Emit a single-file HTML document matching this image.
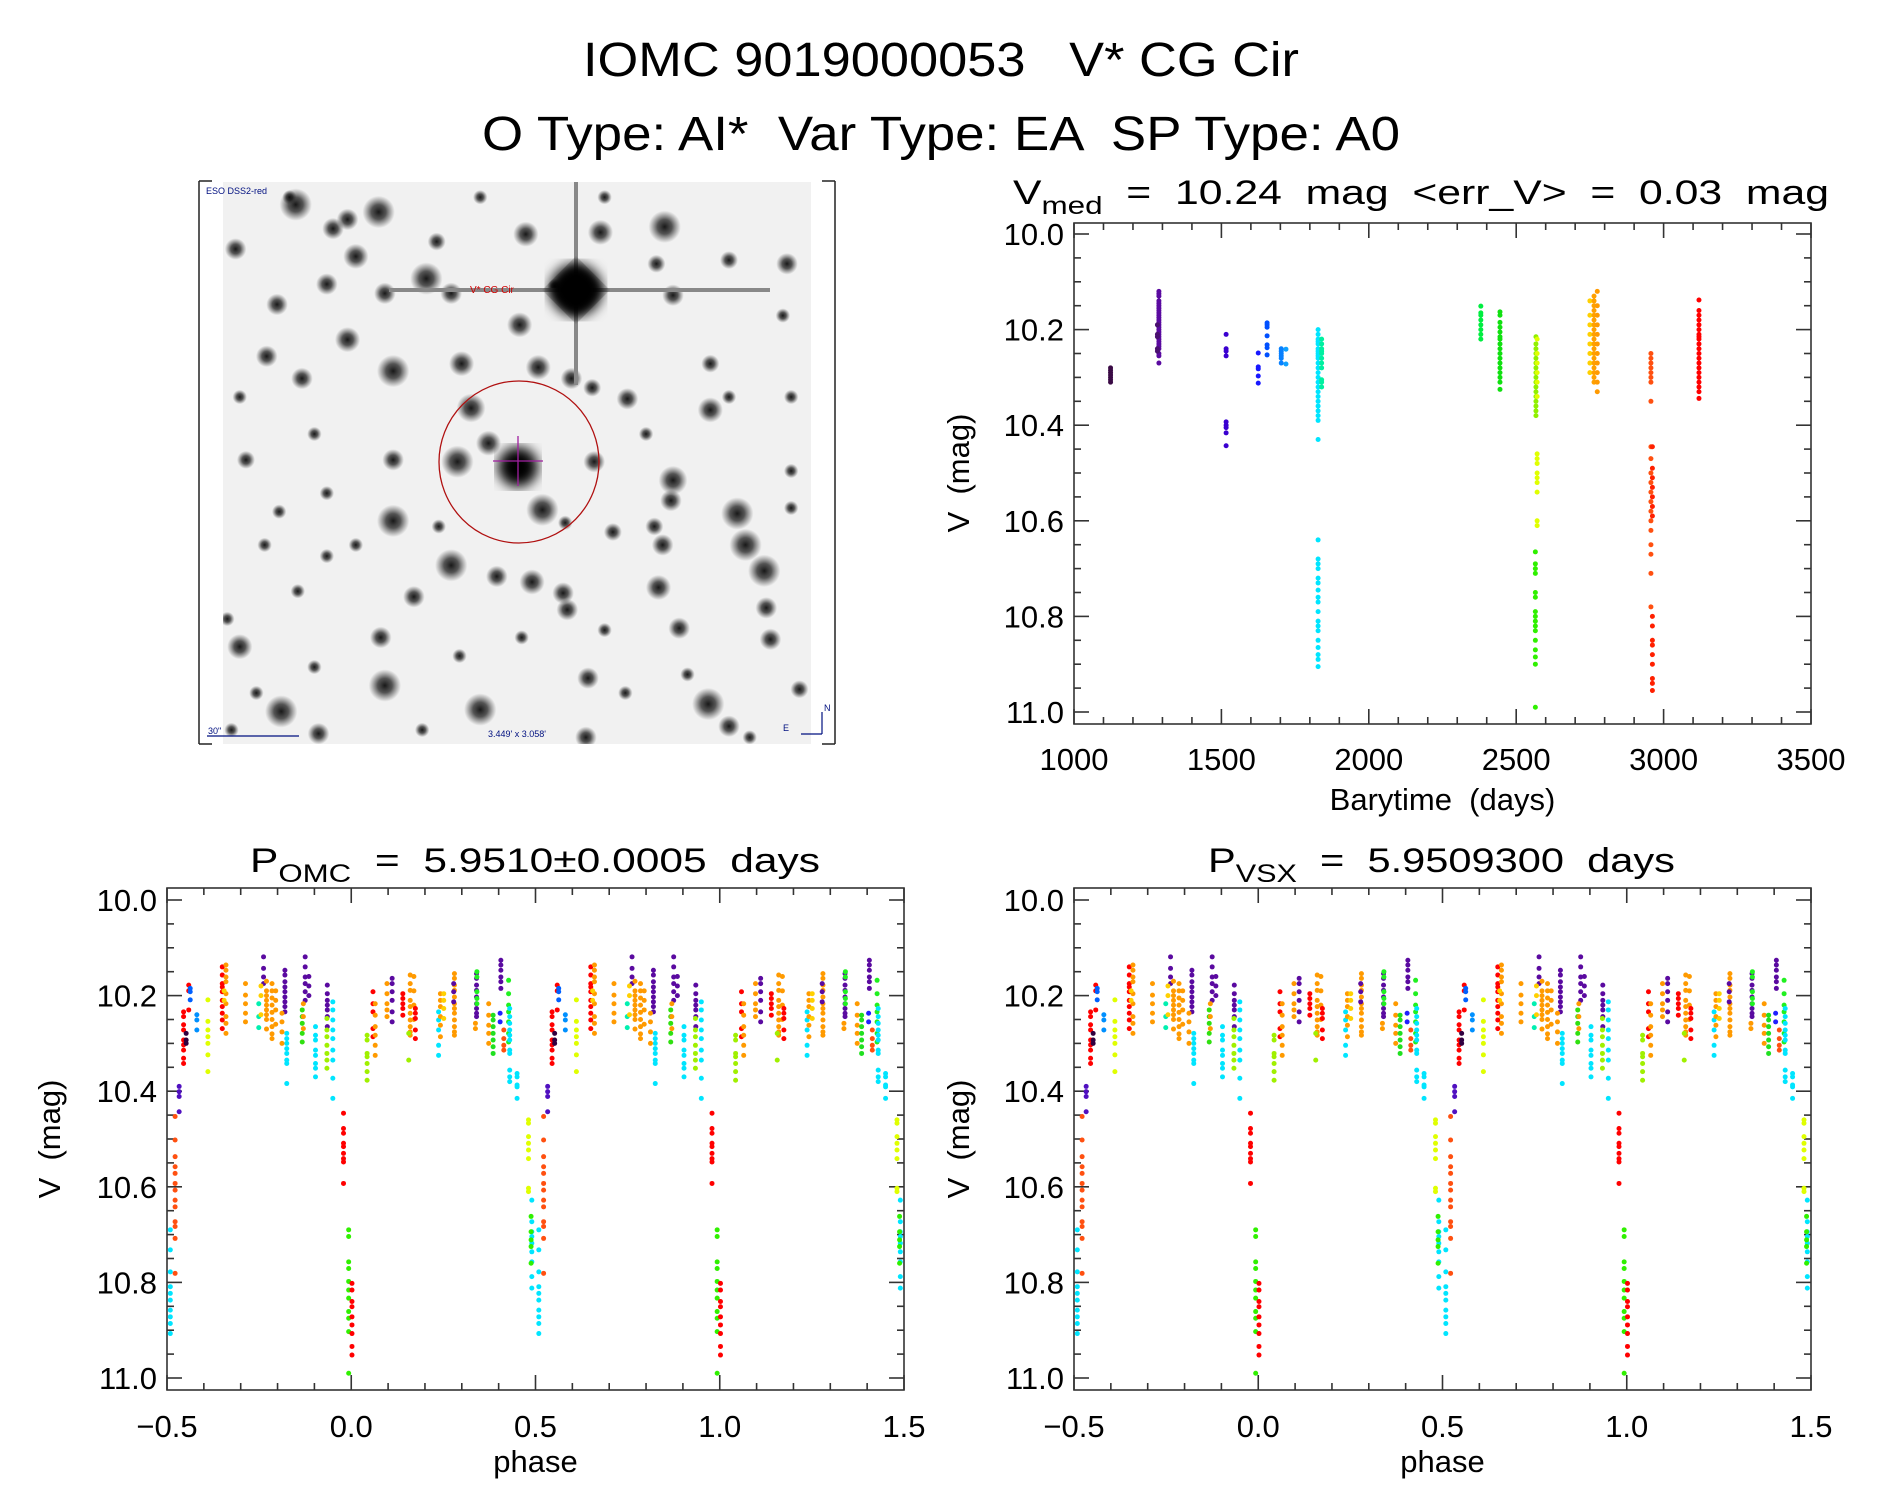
<!DOCTYPE html>
<html><head><meta charset="utf-8">
<style>
html,body{margin:0;padding:0;background:#fff;}
svg{display:block;font-family:"Liberation Sans",sans-serif;}
text,tspan{white-space:pre;}
</style></head>
<body>
<svg id="fig" width="1889" height="1494" viewBox="0 0 1889 1494" xmlns="http://www.w3.org/2000/svg">
<defs>
<radialGradient id="blob"><stop offset="0" stop-color="#000" stop-opacity="0.9"/><stop offset="0.45" stop-color="#111" stop-opacity="0.7"/><stop offset="1" stop-color="#333" stop-opacity="0"/></radialGradient>
<filter id="bl"><feGaussianBlur stdDeviation="6"/></filter>
<clipPath id="imgclip"><rect x="223" y="182" width="588" height="562"/></clipPath>
</defs>
<text x="941" y="76" font-size="48" text-anchor="middle" textLength="716" lengthAdjust="spacingAndGlyphs">IOMC 9019000053   V* CG Cir</text>
<text x="941" y="150" font-size="48" text-anchor="middle" textLength="918" lengthAdjust="spacingAndGlyphs">O Type: AI*  Var Type: EA  SP Type: A0</text>
<g id="img"></g>
<g id="ts"></g>
<g id="ph1"></g>
<g id="ph2"></g>
</svg>
<script>
// ---------- time series data ----------
const tsTimes = [1124,1288,1283,1516,1625,1655,1703,1719,1828,1840,2380,2445,2567,2571,2565,2750,2764,2775,2957,2962,3120];
const tsColors = ["#3a0a45","#5a0aa0","#4a1070","#3a00d0","#1818ff","#0050ff","#0880ff","#10a0ff","#00e5ff","#00f0a0","#00ee40","#10e010","#90f000","#e0ff00","#30f000","#ffd000","#ffa000","#ff9a00","#ff5010","#ff2000","#ff0000"];
const tsMags = [
 [10.28,10.285,10.29,10.295,10.30,10.305,10.31],
 [10.12,10.125,10.13,10.14,10.145,10.15,10.155,10.16,10.165,10.17,10.175,10.18,10.185,10.19,10.195,10.2,10.205,10.21,10.215,10.22,10.225,10.23,10.235,10.24,10.25,10.255,10.27],
 [10.19,10.21,10.215,10.24,10.245],
 [10.21,10.24,10.245,10.255,10.393,10.40,10.405,10.416,10.443],
 [10.249,10.278,10.282,10.297,10.312],
 [10.186,10.19,10.195,10.213,10.232,10.238,10.253],
 [10.24,10.245,10.25,10.255,10.26,10.27],
 [10.241,10.272],
 [10.2,10.21,10.22,10.225,10.23,10.24,10.245,10.25,10.255,10.26,10.27,10.28,10.29,10.3,10.31,10.32,10.33,10.34,10.35,10.36,10.37,10.38,10.39,10.43,10.64,10.68,10.69,10.70,10.72,10.73,10.745,10.76,10.77,10.79,10.81,10.82,10.83,10.85,10.865,10.88,10.89,10.905],
 [10.22,10.23,10.24,10.245,10.25,10.26,10.27,10.28,10.305,10.31,10.32],
 [10.151,10.165,10.17,10.18,10.19,10.20,10.21,10.22],
 [10.163,10.17,10.185,10.195,10.205,10.215,10.22,10.23,10.24,10.25,10.26,10.27,10.28,10.29,10.30,10.31,10.325],
 [10.215,10.23,10.24,10.25,10.26,10.27,10.28,10.29,10.30,10.31,10.32,10.33,10.34,10.35,10.36,10.37,10.38],
 [10.22,10.25,10.27,10.29,10.31,10.34,10.46,10.47,10.48,10.50,10.51,10.52,10.54,10.60,10.61],
 [10.665,10.69,10.70,10.71,10.75,10.76,10.79,10.80,10.81,10.82,10.83,10.85,10.87,10.885,10.90,10.99],
 [10.14,10.17,10.19,10.21,10.23,10.25,10.27,10.29],
 [10.13,10.14,10.15,10.16,10.17,10.18,10.19,10.2,10.21,10.22,10.23,10.24,10.25,10.26,10.27,10.28,10.29,10.30,10.31],
 [10.12,10.15,10.17,10.19,10.21,10.23,10.25,10.27,10.29,10.31,10.33],
 [10.25,10.26,10.27,10.28,10.29,10.30,10.31,10.35,10.445,10.47,10.50,10.52,10.54,10.56,10.58,10.60,10.62,10.65,10.67,10.71,10.78],
 [10.445,10.49,10.51,10.53,10.55,10.57,10.59,10.80,10.82,10.85,10.86,10.88,10.90,10.93,10.94,10.955],
 [10.138,10.16,10.17,10.18,10.19,10.2,10.21,10.215,10.22,10.23,10.24,10.25,10.26,10.27,10.28,10.29,10.3,10.31,10.32,10.33,10.344]
];
const tsXTicks = [1000,1500,2000,2500,3000,3500];
const magTicks = [10.0,10.2,10.4,10.6,10.8,11.0];
const magTickLabels = ["10.0","10.2","10.4","10.6","10.8","11.0"];
// ---------- phased data (one cycle, repeated) ----------
const phPhases = [-0.491,-0.478,-0.467,-0.455,-0.441,-0.448,-0.437,-0.419,-0.389,-0.35,-0.34,-0.345,-0.287,-0.251,-0.238,-0.23,-0.215,-0.205,-0.245,-0.18,-0.175,-0.188,-0.125,-0.115,-0.133,-0.13,-0.097,-0.065,-0.05,-0.066,-0.021,-0.007,0.002,0.043,0.059,0.065,0.097,0.111,0.14,0.16,0.17,0.174,0.156,0.237,0.242,0.251,0.28,0.278,0.34,0.341,0.337,0.373,0.385,0.406,0.404,0.427,0.414,0.43,0.45,0.481,0.49,0.488];
const phColors = ["#00e5ff","#ff5010","#5010c0","#ff0000","#ff0000","#300040","#0060ff","#0090ff","#e0ff00","#ff0000","#ff9a00","#ffd000","#ff9a00","#00f0b0","#5a0aa0","#ff9a00","#ff9a00","#ff9a00","#ffd000","#5a0aa0","#00e5ff","#ff9a00","#5a0aa0","#5a0aa0","#30e010","#ff9a00","#00e5ff","#5a0aa0","#00e5ff","#a0f000","#ff0000","#30f000","#ff0000","#a0f000","#ff0000","#ff9a00","#ff9a00","#5a0aa0","#ff0000","#ff9a00","#ff9a00","#ff0000","#a0f000","#00e5ff","#ff9a00","#ffd000","#ff9a00","#5a0aa0","#5a0aa0","#20f020","#ff9a00","#ff9a00","#20e020","#5a0aa0","#2020ff","#20f020","#ff5010","#00e5ff","#00e5ff","#e0ff00","#00e5ff","#30f000"];
const phMags = [
 [10.690,10.732,10.778,10.809,10.823,10.837,10.858,10.872,10.886,10.907],
 [10.453,10.502,10.537,10.558,10.572,10.593,10.607,10.628,10.642,10.673,10.683,10.708,10.781],
 [10.390,10.401,10.411,10.443],
 [10.342,10.331,10.314,10.303,10.293,10.272,10.261,10.244,10.234],
 [10.178,10.19,10.23],
 [10.279,10.293,10.300],
 [10.185,10.192,10.209],
 [10.24,10.251,10.272],
 [10.209,10.254,10.272,10.286,10.300,10.324,10.359],
 [10.14,10.157,10.175,10.182,10.192,10.21,10.223,10.237,10.251,10.269],
 [10.136,10.147,10.161,10.171,10.196,10.217,10.244,10.258,10.279],
 [10.19,10.21],
 [10.175,10.199,10.217,10.237,10.255],
 [10.217,10.244,10.267],
 [10.119,10.143,10.161,10.175],
 [10.17,10.19,10.2,10.21,10.22,10.23,10.24,10.25,10.27],
 [10.175,10.19,10.205,10.22,10.235,10.25,10.265,10.28,10.29],
 [10.19,10.21,10.23,10.26],
 [10.18,10.2,10.24],
 [10.147,10.157,10.171,10.182,10.192,10.203,10.213,10.223,10.234],
 [10.279,10.29,10.3,10.311,10.321,10.335,10.342,10.384],
 [10.237,10.255,10.276,10.3],
 [10.119,10.14,10.161,10.175,10.192,10.21],
 [10.16,10.18,10.2],
 [10.23,10.244,10.258,10.279,10.297],
 [10.217,10.244,10.269],
 [10.265,10.283,10.293,10.314,10.325,10.342,10.352,10.37],
 [10.178,10.196,10.21,10.22,10.23,10.244,10.265],
 [10.213,10.23,10.251,10.272,10.29,10.314,10.335,10.373,10.415],
 [10.248,10.272,10.286,10.304,10.321,10.335,10.352],
 [10.446,10.478,10.488,10.509,10.516,10.530,10.541,10.548,10.593],
 [10.690,10.704,10.757,10.771,10.798,10.816,10.833,10.861,10.875,10.903,10.99],
 [10.802,10.816,10.840,10.851,10.872,10.889,10.907,10.934,10.952],
 [10.283,10.293,10.321,10.328,10.342,10.359,10.377],
 [10.192,10.217,10.234,10.269,10.286],
 [10.217,10.241,10.265,10.283,10.304,10.325],
 [10.175,10.196,10.217,10.23,10.244],
 [10.164,10.175,10.192,10.21,10.234,10.255],
 [10.196,10.206,10.217,10.227,10.241],
 [10.157,10.175,10.189,10.21,10.223,10.237,10.251,10.265,10.283,10.276],
 [10.16,10.19,10.22,10.25],
 [10.227,10.237,10.248,10.272,10.29],
 [10.279,10.335],
 [10.234,10.251,10.272,10.304,10.325],
 [10.196,10.21,10.223,10.244,10.262,10.286],
 [10.196,10.21,10.227,10.248],
 [10.154,10.164,10.178,10.189,10.203,10.217,10.227,10.237,10.251,10.265,10.276,10.283],
 [10.175,10.192,10.213],
 [10.154,10.164,10.178,10.189,10.203,10.217,10.227,10.237,10.244],
 [10.150,10.161,10.192,10.206,10.217],
 [10.258,10.269],
 [10.217,10.241,10.262,10.279,10.3],
 [10.241,10.251,10.265,10.279,10.293,10.307,10.321],
 [10.126,10.136,10.147,10.161,10.171,10.185],
 [10.237,10.255],
 [10.168,10.196,10.22,10.234,10.255,10.279,10.297],
 [10.272,10.29,10.304,10.314],
 [10.227,10.244,10.258,10.272,10.283,10.293,10.314,10.321,10.356,10.37,10.38],
 [10.363,10.37,10.387,10.391,10.415],
 [10.46,10.467,10.495,10.509,10.523,10.541,10.603,10.61],
 [10.628,10.673,10.694,10.704,10.718,10.736,10.757,10.788,10.812],
 [10.662,10.694,10.711,10.725,10.76]
];
const phXTicks = [-0.5,0.0,0.5,1.0,1.5];
const phXTickLabels = ["\u22120.5","0.0","0.5","1.0","1.5"];

const NS = "http://www.w3.org/2000/svg";
function mk(parent, tag, attrs, text){
  const e = document.createElementNS(NS, tag);
  for (const k in attrs) e.setAttribute(k, attrs[k]);
  if (text !== undefined) e.textContent = text;
  parent.appendChild(e);
  return e;
}

function drawAxes(g, box, xmin, xmax, xMajor, xMinor, xTickVals, xTickLabels, ylabelRight, xTitle){
  const sx = v => box.x0 + (v - xmin) / (xmax - xmin) * (box.x1 - box.x0);
  const sy = m => box.y10 + (m - 10) * (box.y11 - box.y10);
  const axes = mk(g, 'rect', {x: box.x0, y: box.top, width: box.x1 - box.x0, height: box.bot - box.top, fill: 'none', stroke: '#333', 'stroke-width': 1.6});
  
  
  for (let i = 0; i <= 20; i++) {
    const m = 10 + i * 0.05;
    const y = sy(m);
    const len = (i % 4 === 0) ? 15 : 7;
    mk(g, 'line', {x1: box.x0, x2: box.x0 + len, y1: y, y2: y, stroke: '#333', 'stroke-width': 1.6});
    mk(g, 'line', {x1: box.x1, x2: box.x1 - len, y1: y, y2: y, stroke: '#333', 'stroke-width': 1.6});
  }
  magTicks.forEach((m, i) => {
    const t = mk(g, 'text', {x: ylabelRight, y: sy(m) + 11, 'font-size': 31, 'text-anchor': 'end'}, magTickLabels[i]);
    
    
  });
  const nMin = Math.round((xmax - xmin) / xMinor);
  for (let i = 0; i <= nMin; i++) {
    const v = xmin + i * xMinor;
    const x = sx(v);
    const isMaj = Math.abs((v - xmin) / xMajor - Math.round((v - xmin) / xMajor)) < 1e-6;
    const len = isMaj ? 15 : 7;
    mk(g, 'line', {x1: x, x2: x, y1: box.bot, y2: box.bot - len, stroke: '#333', 'stroke-width': 1.6});
    mk(g, 'line', {x1: x, x2: x, y1: box.top, y2: box.top + len, stroke: '#333', 'stroke-width': 1.6});
  }
  xTickVals.forEach((v, i) => {
    const t = mk(g, 'text', {x: sx(v), y: box.xlabY, 'font-size': 31, 'text-anchor': 'middle'}, xTickLabels[i]);
    
    
  });
  const xt = mk(g, 'text', {x: (box.x0 + box.x1) / 2, y: box.xtitleY, 'font-size': 31, 'text-anchor': 'middle'}, xTitle);
  
  
  const yt = mk(g, 'text', {x: 0, y: 0, 'font-size': 31, 'text-anchor': 'middle', transform: `translate(${box.ytitleX},${(box.y10 + box.y11) / 2}) rotate(-90)`}, 'V  (mag)');
  
  
  return {sx, sy};
}

// ---------- time series plot ----------
(function(){
  const g = document.getElementById('ts');
  const box = {x0: 1074, x1: 1811, top: 223, bot: 724, y10: 234, y11: 712, xlabY: 770, xtitleY: 810, ytitleX: 969};
  const t = mk(g, 'text', {x: 1013, y: 204, 'font-size': 34});
  
  
  mk(t, 'tspan', {}, 'V');
  mk(t, 'tspan', {dy: 10, 'font-size': 25}, 'med');
  mk(t, 'tspan', {dy: -10}, '  =  10.24  mag  <err_V>  =  0.03  mag');
  t.setAttribute('textLength', 816);
  t.setAttribute('lengthAdjust', 'spacingAndGlyphs');
  const labels = tsXTicks.map(String);
  const ax = drawAxes(g, box, 1000, 3500, 500, 100, tsXTicks, labels, 1064, 'Barytime  (days)');
  tsTimes.forEach((tt, i) => {
    tsMags[i].forEach(m => {
      const c = mk(g, 'circle', {cx: ax.sx(tt), cy: ax.sy(m), r: 2.5, fill: tsColors[i]});
      
      
    });
  });
})();

// ---------- phase plots ----------
function phasePlot(id, x0, x1, ylabRight, ytitleX, titleMain, titleSub, titleRest, titleX, titleLen){
  const g = document.getElementById(id);
  const box = {x0: x0, x1: x1, top: 888, bot: 1390, y10: 900, y11: 1378, xlabY: 1437, xtitleY: 1472, ytitleX: ytitleX};
  const t = mk(g, 'text', {x: titleX, y: 872, 'font-size': 34});
  
  
  mk(t, 'tspan', {}, titleMain);
  mk(t, 'tspan', {dy: 10, 'font-size': 25}, titleSub);
  mk(t, 'tspan', {dy: -10}, titleRest);
  t.setAttribute('textLength', titleLen);
  t.setAttribute('lengthAdjust', 'spacingAndGlyphs');
  const ax = drawAxes(g, box, -0.5, 1.5, 0.5, 0.1, phXTicks, phXTickLabels, ylabRight, 'phase');
  phPhases.forEach((p, i) => {
    [p, p + 1].forEach(pp => {
      if (pp < -0.5 || pp > 1.5) return;
      phMags[i].forEach(m => {
        const c = mk(g, 'circle', {cx: ax.sx(pp), cy: ax.sy(m), r: 2.5, fill: phColors[i]});
        
        
      });
    });
  });
}
phasePlot('ph1', 167, 904, 157, 60, 'P', 'OMC', '  =  5.9510\u00b10.0005  days', 250, 570);
phasePlot('ph2', 1074, 1811, 1064, 969, 'P', 'VSX', '  =  5.9509300  days', 1208, 467);

// ---------- sky image ----------
(function(){
  const g = document.getElementById('img');
  mk(g, 'rect', {x: 199, y: 181, width: 636, height: 563, fill: '#fff', stroke: 'none'});
  mk(g, 'rect', {x: 223, y: 182, width: 588, height: 562, fill: '#f1f1f1'});
  mk(g, 'line', {x1: 199, y1: 181, x2: 199, y2: 744, stroke: '#222', 'stroke-width': 1.5});
  mk(g, 'line', {x1: 199, y1: 181, x2: 212, y2: 181, stroke: '#222', 'stroke-width': 1.5});
  mk(g, 'line', {x1: 199, y1: 744, x2: 212, y2: 744, stroke: '#222', 'stroke-width': 1.5});
  mk(g, 'line', {x1: 835, y1: 181, x2: 835, y2: 744, stroke: '#222', 'stroke-width': 1.5});
  mk(g, 'line', {x1: 822, y1: 181, x2: 835, y2: 181, stroke: '#222', 'stroke-width': 1.5});
  mk(g, 'line', {x1: 822, y1: 744, x2: 835, y2: 744, stroke: '#222', 'stroke-width': 1.5});
  const cg = mk(g, 'g', {'clip-path': 'url(#imgclip)'});
  const blobs = [[255,80,9],[455,100,9],[400,220,7],[570,280,9],[1145,140,9],[990,155,7],[810,160,7],[110,200,6],[490,530,9],[655,510,7],[840,520,7],[795,405,7],[380,445,7],[678,630,8],[645,775,9],[720,725,7],[850,905,9],[490,935,9],[1255,635,7],[1165,825,8],[1320,915,9],[1385,1070,9],[1340,1000,9],[630,1055,9],[700,1445,9],[1250,1430,9],[220,1450,9],[470,1380,9],[960,1360,6],[1180,1225,6],[1130,1115,7],[1160,880,6],[825,1100,7],[540,1140,6],[120,1275,7],[460,1250,6],[975,775,6],[1055,605,6],[1440,240,6],[470,320,6],[330,295,6],[210,350,6],[345,145,6],[380,120,6],[595,180,5],[630,320,6],[1165,325,6],[1390,1170,6],[310,1510,6],[955,1520,6],[1300,1490,6],[1470,1390,5],[1400,1255,6],[270,550,6],[185,490,6],[135,770,5],[490,770,6],[920,550,6],[970,575,5],[1125,240,5],[1255,510,5],[900,1130,6],[910,1175,6],[740,1085,6],[1020,965,5],[1120,950,5],[1140,1000,6],[180,1000,4],[260,1125,4],[90,1200,4],[330,860,4],[215,910,4],[600,950,4],[905,940,4],[1300,230,5],[1450,600,4],[1430,380,4],[1000,1230,4],[560,1500,4],[300,1330,4],[240,60,4],[700,60,4],[1000,60,4],[120,600,4],[300,700,4],[1100,700,4],[1450,800,4],[1450,900,4],[160,1400,4],[650,1300,4],[800,1250,4],[1200,1350,4],[1350,1520,4],[100,1500,4],[400,1000,4],[1050,1400,4],[880,300,4],[1300,600,4],[330,1030,4]];
  blobs.forEach(b => {
    mk(cg, 'circle', {cx: 190 + b[0] / 2.412, cy: 175 + b[1] / 2.703, r: b[2] * 1.8, fill: 'url(#blob)'});
  });
  mk(cg, 'line', {x1: 389, y1: 290, x2: 770, y2: 290, stroke: '#888', 'stroke-width': 4});
  mk(cg, 'line', {x1: 576, y1: 182, x2: 576, y2: 385, stroke: '#888', 'stroke-width': 4});
  mk(cg, 'rect', {x: 556, y: 270, width: 40, height: 40, fill: '#000', transform: 'rotate(45 576 290)', filter: 'url(#bl)'});
  mk(cg, 'circle', {cx: 576, cy: 290, r: 26, fill: '#000', filter: 'url(#bl)'});
  mk(cg, 'circle', {cx: 518, cy: 467, r: 20, fill: '#000', filter: 'url(#bl)'});
  const circ = mk(g, 'ellipse', {cx: 519, cy: 462, rx: 80, ry: 81, fill: 'none', stroke: '#b01010', 'stroke-width': 1.3});
  
  
  mk(g, 'line', {x1: 493, y1: 461, x2: 543, y2: 461, stroke: '#a020a0', 'stroke-width': 1.3});
  mk(g, 'line', {x1: 518, y1: 436, x2: 518, y2: 486, stroke: '#a020a0', 'stroke-width': 1.3});
  const lab = mk(g, 'text', {x: 470, y: 293, 'font-size': 10, fill: '#d00000'}, 'V* CG Cir');
  
  
  const src = mk(g, 'text', {x: 206, y: 194, 'font-size': 9, fill: '#001080'}, 'ESO DSS2-red');
  
  
  mk(g, 'line', {x1: 207, y1: 736, x2: 299, y2: 736, stroke: '#001080', 'stroke-width': 1.2});
  mk(g, 'text', {x: 208, y: 734, 'font-size': 9, fill: '#001080'}, '30"');
  const sz = mk(g, 'text', {x: 488, y: 737, 'font-size': 9, fill: '#001080'}, "3.449' x 3.058'");
  
  
  mk(g, 'line', {x1: 822, y1: 734, x2: 822, y2: 712, stroke: '#001080', 'stroke-width': 1.2});
  mk(g, 'line', {x1: 822, y1: 734, x2: 801, y2: 734, stroke: '#001080', 'stroke-width': 1.2});
  mk(g, 'text', {x: 824, y: 711, 'font-size': 9, fill: '#001080'}, 'N');
  mk(g, 'text', {x: 783, y: 731, 'font-size': 9, fill: '#001080'}, 'E');
})();
</script>
</body></html>
